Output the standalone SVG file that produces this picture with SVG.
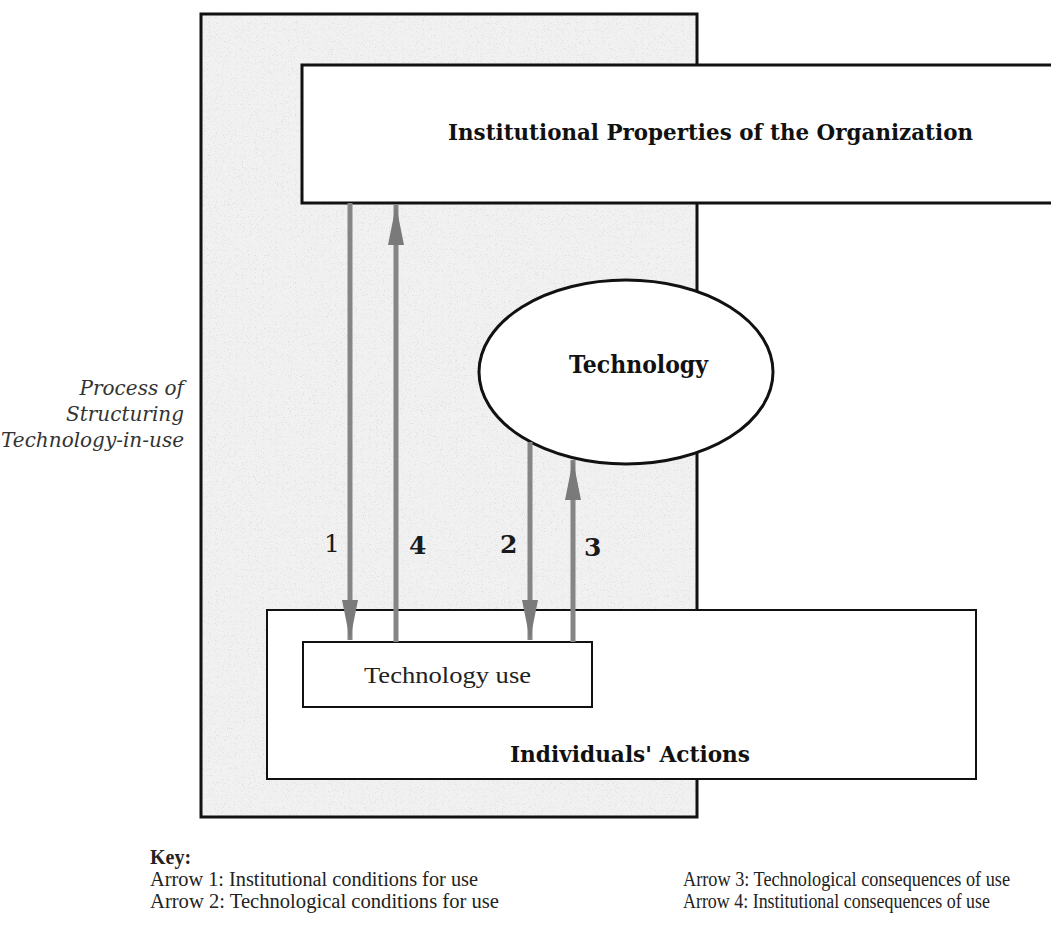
<svg xmlns="http://www.w3.org/2000/svg" width="1051" height="940" viewBox="0 0 1051 940">
  <style>
    .box { fill: #ffffff; stroke: #111111; }
    .shade { fill: #f1f1f1; }
    .frame { fill: none; stroke: #111111; stroke-width: 3; }
    .title { font-family: "DejaVu Serif", "Liberation Serif", serif; font-weight: bold; fill: #111111; }
    .plain { font-family: "Liberation Serif", serif; fill: #222222; }
    .side { font-family: "DejaVu Serif", "Liberation Serif", serif; font-style: italic; fill: #333333; font-size: 20px; text-anchor: end; }
    .num { font-family: "DejaVu Serif", "Liberation Serif", serif; fill: #1a1a1a; font-size: 25px; }
    .key { font-family: "Liberation Serif", serif; fill: #222222; font-size: 20px; }
    .flow { stroke: #858585; stroke-width: 5; fill: none; }
  </style>
  <defs>
    <marker id="head" viewBox="0 0 40 16" refX="40" refY="8" markerWidth="40" markerHeight="16" markerUnits="userSpaceOnUse" orient="auto">
      <path d="M0,0 L40,8 L0,16 Z" fill="#7a7a7a"/>
    </marker>
    <!-- light print grain for the shaded frame -->
    <filter id="grain" x="0" y="0" width="100%" height="100%">
      <feTurbulence type="fractalNoise" baseFrequency="0.85" numOctaves="2" seed="7" result="noise"/>
      <feColorMatrix in="noise" type="matrix" values="0 0 0 0 0.45  0 0 0 0 0.45  0 0 0 0 0.45  4 0 0 0 -2.3"/>
    </filter>
  </defs>

  <rect width="1051" height="940" fill="#ffffff"/>

  <!-- shaded frame: process of structuring technology-in-use -->
  <g id="process">
    <rect class="shade" x="201" y="14" width="496" height="803"/>
    <rect x="201" y="14" width="496" height="803" filter="url(#grain)" opacity="0.35"/>
    <rect class="frame" x="201" y="14" width="496" height="803"/>
    <text class="side" x="184" y="395">Process of</text>
    <text class="side" x="184" y="421">Structuring</text>
    <text class="side" x="184" y="447">Technology-in-use</text>
  </g>

  <g id="institutional">
    <rect class="box" x="302" y="65" width="760" height="138" stroke-width="3"/>
    <text class="title" x="448" y="140" font-size="23" textLength="525" lengthAdjust="spacingAndGlyphs">Institutional Properties of the Organization</text>
  </g>

  <g id="technology">
    <ellipse class="box" cx="626" cy="372" rx="147" ry="92" stroke-width="3"/>
    <text class="title" x="569" y="373" font-size="25" textLength="139" lengthAdjust="spacingAndGlyphs">Technology</text>
  </g>

  <g id="individuals">
    <rect class="box" x="267" y="610" width="709" height="169" stroke-width="2"/>
    <text class="title" x="510" y="762" font-size="23" textLength="240" lengthAdjust="spacingAndGlyphs">Individuals' Actions</text>
  </g>

  <g id="technology-use">
    <rect class="box" x="303" y="642" width="289" height="65" stroke-width="2"/>
    <text class="plain" x="364" y="683" font-size="24" textLength="167" lengthAdjust="spacingAndGlyphs">Technology use</text>
  </g>

  <!-- numbered arrows between the levels -->
  <g id="connectors">
    <line class="flow" x1="350" y1="203" x2="350" y2="640" marker-end="url(#head)"/>
    <line class="flow" x1="396" y1="642" x2="396" y2="205" marker-end="url(#head)"/>
    <line class="flow" x1="530" y1="442" x2="530" y2="640" marker-end="url(#head)"/>
    <line class="flow" x1="573" y1="642" x2="573" y2="460" marker-end="url(#head)"/>
    <text class="num" x="324" y="552">1</text>
    <text class="num" x="409" y="554" font-weight="bold">4</text>
    <text class="num" x="500" y="553" font-weight="bold">2</text>
    <text class="num" x="584" y="556" font-weight="bold">3</text>
  </g>

  <g id="key">
    <text class="key" x="150" y="864" font-size="21" font-weight="bold">Key:</text>
    <text class="key" x="150" y="886" textLength="328" lengthAdjust="spacingAndGlyphs">Arrow 1:  Institutional conditions for use</text>
    <text class="key" x="150" y="908" textLength="349" lengthAdjust="spacingAndGlyphs">Arrow 2:  Technological conditions for use</text>
    <text class="key" x="683" y="886" textLength="327" lengthAdjust="spacingAndGlyphs">Arrow 3:  Technological consequences of use</text>
    <text class="key" x="683" y="908" textLength="307" lengthAdjust="spacingAndGlyphs">Arrow 4:  Institutional consequences of use</text>
  </g>
</svg>
